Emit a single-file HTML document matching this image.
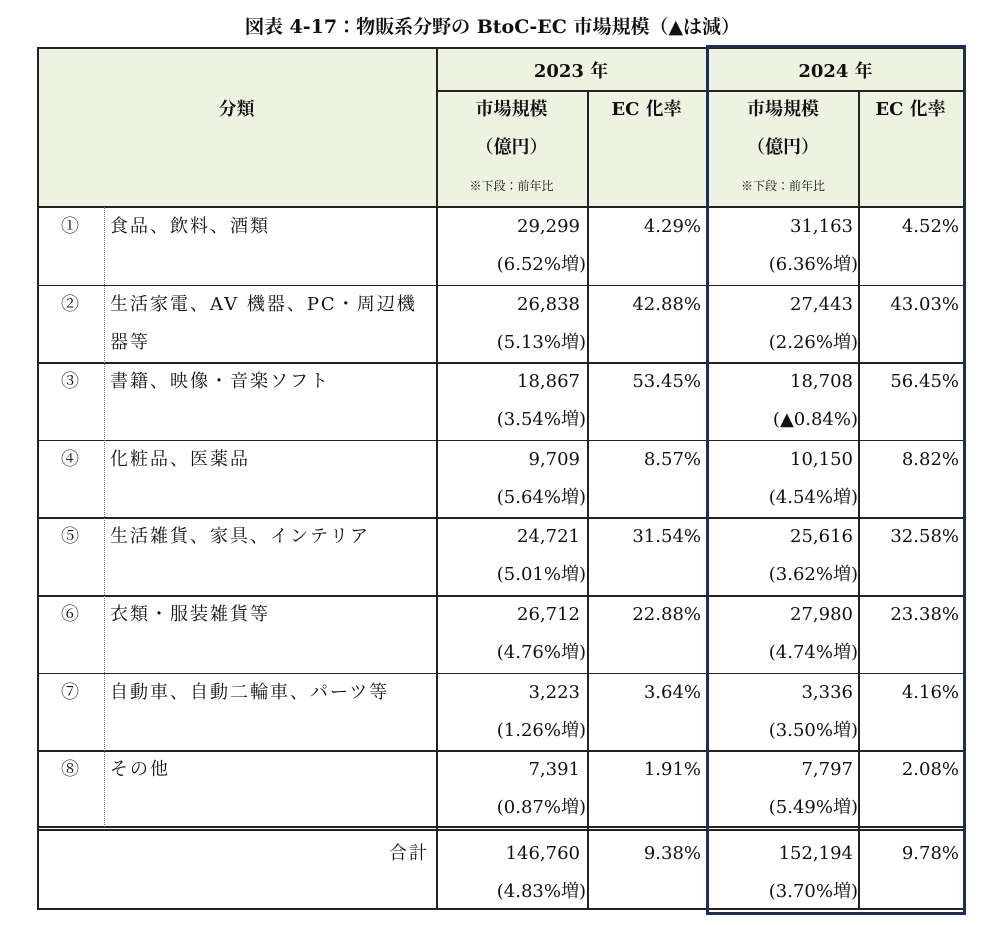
<!DOCTYPE html>
<html><head><meta charset="utf-8"><style>
body{margin:0;background:#fff;width:1000px;height:925px;position:relative;overflow:hidden;font-family:"DejaVu Serif","Noto Serif CJK JP","Noto Serif CJK SC",serif;color:#111}
.a{position:absolute;white-space:nowrap}
.t{font-size:18px;line-height:22px}
.n{font-size:18px;letter-spacing:2px}
.hl{position:absolute;background:#222;height:1.5px}
.vl{position:absolute;background:#222;width:1.5px}
</style></head><body>
<div class="a" style="left:0;width:985px;text-align:center;top:12px;font-size:19px;font-weight:bold">図表 4-17：物販系分野の BtoC-EC 市場規模（▲は減）</div>

<div class="a" style="left:37px;top:47px;width:926px;height:160px;background:#eef2e0"></div>

<div id="grid"></div>

<div class="a t" style="left:37px;width:399px;top:99px;text-align:center;font-weight:bold">分類</div>
<div class="a t" style="left:436px;width:151px;top:61px;text-align:center;font-weight:bold;left:436px;width:270px">2023 年</div>
<div class="a t" style="left:708px;width:255px;top:61px;text-align:center;font-weight:bold">2024 年</div>
<div class="a t" style="left:436px;width:151px;top:99px;text-align:center;font-weight:bold">市場規模</div>
<div class="a t" style="left:436px;width:151px;top:137px;text-align:center;font-weight:bold">（億円）</div>
<div class="a" style="left:436px;width:151px;top:177px;text-align:center;font-size:12px">※下段：前年比</div>
<div class="a t" style="left:587px;width:119px;top:99px;text-align:center;font-weight:bold">EC 化率</div>
<div class="a t" style="left:708px;width:150px;top:99px;text-align:center;font-weight:bold">市場規模</div>
<div class="a t" style="left:708px;width:150px;top:137px;text-align:center;font-weight:bold">（億円）</div>
<div class="a" style="left:708px;width:150px;top:177px;text-align:center;font-size:12px">※下段：前年比</div>
<div class="a t" style="left:858px;width:105px;top:99px;text-align:center;font-weight:bold">EC 化率</div>

<div id="rows"></div>

<script>
const nums=["①","②","③","④","⑤","⑥","⑦","⑧"];
const names=[["食品、飲料、酒類",""],["生活家電、AV 機器、PC・周辺機","器等"],["書籍、映像・音楽ソフト",""],["化粧品、医薬品",""],["生活雑貨、家具、インテリア",""],["衣類・服装雑貨等",""],["自動車、自動二輪車、パーツ等",""],["その他",""]];
const v23=["29,299","26,838","18,867","9,709","24,721","26,712","3,223","7,391","146,760"];
const g23=["(6.52%増)","(5.13%増)","(3.54%増)","(5.64%増)","(5.01%増)","(4.76%増)","(1.26%増)","(0.87%増)","(4.83%増)"];
const r23=["4.29%","42.88%","53.45%","8.57%","31.54%","22.88%","3.64%","1.91%","9.38%"];
const v24=["31,163","27,443","18,708","10,150","25,616","27,980","3,336","7,797","152,194"];
const g24=["(6.36%増)","(2.26%増)","(▲0.84%)","(4.54%増)","(3.62%増)","(4.74%増)","(3.50%増)","(5.49%増)","(3.70%増)"];
const r24=["4.52%","43.03%","56.45%","8.82%","32.58%","23.38%","4.16%","2.08%","9.78%"];
const R=document.getElementById('rows'),G=document.getElementById('grid');
function txt(name,s,l,w,top,align,cls){const d=document.createElement('div');d.className='a t'+(cls?' '+cls:'');


d.style.cssText=`left:${l}px;width:${w}px;top:${top}px;text-align:${align}`;d.textContent=s;R.appendChild(d);}
const rowTop=i=>207+i*77.6;
for(let i=0;i<9;i++){
 const y=rowTop(i)+(i==8?2:0);
 if(i<8){txt('row-number',nums[i],37,66,y+9,'center');
  txt('category-name',names[i][0],110,330,y+9,'left','n');
  if(names[i][1])txt('category-name-cont',names[i][1],110,330,y+47,'left','n');}
 else txt('total-label','合計',37,392,y+13,'right','n');
 const o=i==8?4:0;
 txt('market-size-2023',v23[i],436,144,y+9+o,'right');
 txt('growth-2023',g23[i],436,150,y+47+o,'right');
 txt('ec-rate-2023',r23[i],587,114,y+9+o,'right');
 txt('market-size-2024',v24[i],708,145,y+9+o,'right');
 txt('growth-2024',g24[i],708,150,y+47+o,'right');
 txt('ec-rate-2024',r24[i],858,101,y+9+o,'right');
}
function line(cls,css,name){const d=document.createElement('div');d.className=cls;


d.style.cssText=css;G.appendChild(d);}
line('hl','left:37px;top:47px;width:926px;','top-border');
line('hl','left:436px;top:90px;width:527px;','year-row-line');
line('hl','left:37px;top:206px;width:926px;','header-bottom-line');
for(let i=1;i<8;i++)line('hl',`left:37px;top:${rowTop(i)}px;width:926px;`,'row-line');
line('hl','left:37px;top:826px;width:926px;height:1.5px','total-double-line-a');
line('hl','left:37px;top:829px;width:926px;height:1.5px','total-double-line-b');
line('hl','left:37px;top:908px;width:926px;','bottom-border');
line('vl','left:37px;top:47px;height:862px;','left-border');
line('vl','left:436px;top:47px;height:862px;','col-line');
line('vl','left:587px;top:90px;height:819px;','col-line');
line('vl','left:858px;top:90px;height:819px;','col-line');
line('vl','left:963px;top:47px;height:862px;','right-border');
line('a',"left:104px;top:207px;height:620px;width:0;border-left:1px dotted #777",'dotted-separator');
line('a',"left:706px;top:45px;width:254px;height:864px;border:3px solid #1f2d52",'highlight-2024-frame');
</script>
</body></html>
